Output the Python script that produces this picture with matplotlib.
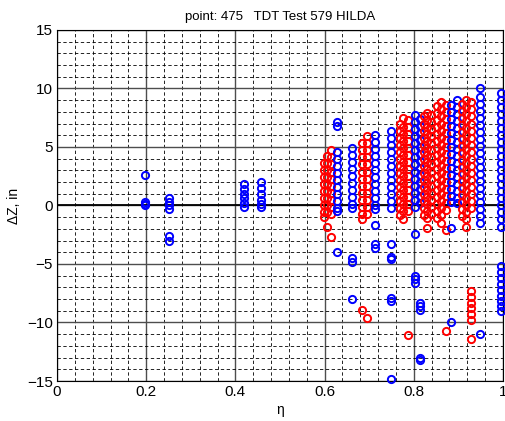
import matplotlib
matplotlib.use("Agg")
import matplotlib.pyplot as plt
from matplotlib.ticker import MultipleLocator

plt.rcParams['font.family'] = ['Liberation Sans', 'DejaVu Sans']

# blue points: eta of each column and the delta Z values in it
blue_eta = [0.198, 0.25, 0.42, 0.457, 0.627, 0.661, 0.713, 0.749, 0.803, 0.814,
            0.884, 0.896, 0.948, 0.995]
blue_dz = [
    [2.6, 0.3, 0.1, 0.0],
    [0.6, 0.3, 0.0, -0.3, -2.6, -3.0],
    [1.8, 1.4, 1.0, 0.6, 0.2, -0.1],
    [2.0, 1.5, 1.0, 0.5, 0.1, -0.1],
    [4.6, 4.0, 3.4, 2.8, 2.2, 1.6, 1.0, 0.4, -0.2, -0.5, 7.1, 6.8, -4.0],
    [4.9, 4.3, 3.7, 3.1, 2.5, 1.9, 1.3, 0.7, 0.1, -0.2, -4.5, -4.8, -8.0],
    [6.0, 5.4, 4.8, 4.2, 3.6, 3.0, 2.4, 1.8, 1.2, 0.6, 0.0, -0.3, -1.7, -3.3, -3.6],
    [6.4, 5.8, 5.2, 4.6, 4.0, 3.4, 2.8, 2.2, 1.6, 1.0, 0.4, -0.2,
     -3.3, -4.4, -4.6, -7.9, -8.2, -14.8],
    [7.7, 7.1, 6.5, 5.9, 5.3, 4.7, 4.1, 3.5, 2.9, 2.3, 1.7, 1.1, 0.5, -0.1,
     -2.4, -6.0, -6.3, -6.6],
    [7.4, 6.8, 6.2, 5.6, 5.0, 4.4, 3.8, 3.2, 2.6, 2.0, 1.4, 0.8, 0.2,
     -8.3, -8.6, -8.9, -13.0, -13.2],
    [8.6, 8.0, 7.4, 6.8, 6.2, 5.6, 5.0, 4.4, 3.8, 3.2, 2.6, 2.0, 1.4, 0.8, 0.3,
     -1.9, -10.0],
    [9.0, 8.4, 7.8, 7.2, 6.6, 6.0, 5.4, 4.8, 4.2, 3.6, 3.0, 2.4, 1.8, 1.2, 0.6, 0.2],
    [10.0, 9.3, 8.7, 8.1, 7.5, 6.9, 6.3, 5.7, 5.1, 4.5, 3.9, 3.3, 2.7, 2.1, 1.5,
     0.9, 0.3, -0.3, -0.9, -1.5, -11.0],
    [9.6, 9.0, 8.4, 7.8, 7.2, 6.6, 6.0, 5.4, 4.8, 4.2, 3.6, 3.0, 2.4, 1.8, 1.2,
     0.6, 0.0, -0.6, -1.2, -1.8, -5.2, -5.7, -6.2, -6.7, -7.2, -7.7, -8.2, -8.6, -9.0],
]

# red points
red_eta = [0.598, 0.606, 0.614, 0.683, 0.694, 0.768, 0.776, 0.786,
           0.822, 0.830, 0.838, 0.852, 0.862, 0.872, 0.908, 0.918, 0.928]
red_dz = [
    [3.6, 3.0, 2.4, 1.8, 1.2, 0.6, 0.0, -0.6, -1.0],
    [4.2, 3.6, 3.0, 2.4, 1.8, 1.2, 0.6, 0.0, -0.6, -1.8],
    [4.7, 4.1, 3.5, 2.9, 2.3, 1.7, 1.1, 0.5, -0.1, -0.7, -2.7],
    [5.3, 4.7, 4.1, 3.5, 2.9, 2.3, 1.7, 1.1, 0.5, -0.1, -0.7, -1.2, -8.9],
    [5.9, 5.3, 4.7, 4.1, 3.5, 2.9, 2.3, 1.7, 1.1, 0.5, -0.1, -0.7, -9.6],
    [7.0, 6.4, 5.8, 5.2, 4.6, 4.0, 3.4, 2.8, 2.2, 1.6, 1.0, 0.4, -0.2, -0.8],
    [7.5, 6.7, 6.1, 5.5, 4.9, 4.3, 3.7, 3.1, 2.5, 1.9, 1.3, 0.7, 0.1, -0.5, -1.2],
    [7.3, 6.7, 6.1, 5.5, 4.9, 4.3, 3.7, 3.1, 2.5, 1.9, 1.3, 0.7, 0.1, -0.5, -11.1],
    [7.6, 7.0, 6.4, 5.8, 5.2, 4.6, 4.0, 3.4, 2.8, 2.2, 1.6, 1.0, 0.4, -0.2, -0.8],
    [7.9, 7.3, 6.7, 6.1, 5.5, 4.9, 4.3, 3.7, 3.1, 2.5, 1.9, 1.3, 0.7, 0.1, -0.5,
     -1.1, -1.9],
    [7.7, 7.1, 6.5, 5.9, 5.3, 4.7, 4.1, 3.5, 2.9, 2.3, 1.7, 1.1, 0.5, -0.1, -0.7],
    [8.5, 7.9, 7.3, 6.7, 6.1, 5.5, 4.9, 4.3, 3.7, 3.1, 2.5, 1.9, 1.3, 0.7, 0.1,
     -0.5, -1.1],
    [8.8, 8.2, 7.6, 7.0, 6.4, 5.8, 5.2, 4.6, 4.0, 3.4, 2.8, 2.2, 1.6, 1.0, 0.4,
     -0.2, -0.8, -1.5],
    [8.6, 8.0, 7.4, 6.8, 6.2, 5.6, 5.0, 4.4, 3.8, 3.2, 2.6, 2.0, 1.4, 0.8, 0.2,
     -0.4, -2.1, -10.7],
    [8.7, 8.1, 7.5, 6.9, 6.3, 5.7, 5.1, 4.5, 3.9, 3.3, 2.7, 2.1, 1.5, 0.9, 0.3,
     -0.3, -0.9],
    [9.0, 8.4, 7.8, 7.2, 6.6, 6.0, 5.4, 4.8, 4.2, 3.6, 3.0, 2.4, 1.8, 1.2, 0.6,
     0.0, -0.6, -1.2, -1.8],
    [8.8, 8.2, 7.6, 7.0, 6.4, 5.8, 5.2, 4.6, 4.0, 3.4, 2.8, 2.2, 1.6, 1.0, 0.4,
     -0.2, -7.3, -7.8, -8.3, -8.8, -9.3, -9.8, -11.4],
]

title = 'point: 475   TDT Test 579 HILDA'

fig = plt.figure(figsize=(5.05, 4.21), dpi=100)
ax = fig.add_axes([0.113, 0.095, 0.883, 0.834])

# draw columns in order of eta so overlaps look like the original
cols = [(e, v, 'b') for e, v in zip(blue_eta, blue_dz)] + \
       [(e, v, 'r') for e, v in zip(red_eta, red_dz)]
cols.sort(key=lambda c: c[0])
for e, v, c in cols:
    ax.plot([e] * len(v), v, 'o', mfc='none', mec=c, ms=5.2, mew=1.4,
            zorder=3, clip_on=False)

ax.set_xlim(0, 1)
ax.set_ylim(-15, 15)
ax.xaxis.set_major_locator(MultipleLocator(0.2))
ax.xaxis.set_minor_locator(MultipleLocator(0.04))
ax.yaxis.set_major_locator(MultipleLocator(5))
ax.yaxis.set_minor_locator(MultipleLocator(1))
ax.set_xticks([0, 0.2, 0.4, 0.6, 0.8, 1.0])
ax.set_xticklabels(['0', '0.2', '0.4', '0.6', '0.8', '1'])

ax.grid(which='major', color='0.3', lw=1.0, ls='-')
ax.grid(which='minor', color='k', lw=0.6, ls=(0, (4, 3)))
ax.set_axisbelow(True)
ax.axhline(0, color='k', lw=1.3, zorder=2)

ax.tick_params(which='both', direction='in', labelsize=11, length=0, pad=3)
for s in ax.spines.values():
    s.set_color('k')
    s.set_linewidth(0.8)

ax.set_title(title, fontsize=9.5, pad=7)
ax.set_xlabel('η', fontsize=10, labelpad=3)
ax.set_ylabel('ΔZ, in', fontsize=10, labelpad=4)

fig.savefig('out.png', dpi=100)
